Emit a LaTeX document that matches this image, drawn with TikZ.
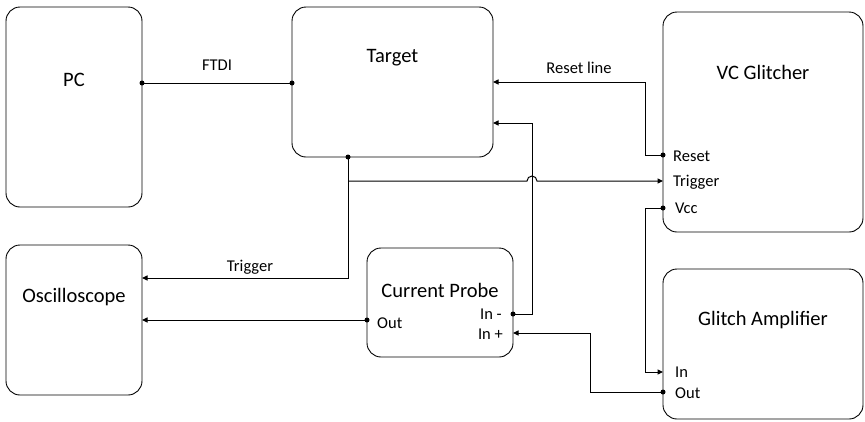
\documentclass[tikz,border=0pt]{standalone}
\usepackage{fontspec}
\setmainfont{Carlito}
\usetikzlibrary{arrows.meta}
\begin{document}
\begin{tikzpicture}[x=1pt,y=-1pt,
  box/.style={draw, line width=0.9pt, rounded corners=14pt, inner sep=0pt, outer sep=0pt},
  big/.style={font=\fontsize{20.5}{22}\selectfont, inner sep=0pt},
  small/.style={font=\fontsize{16.5}{18}\selectfont, inner sep=0pt},
  wire/.style={line width=1pt},
  arr/.style={wire, -{Triangle[length=5.5pt,width=5pt]}},
  dot/.style={circle, fill, inner sep=0pt, minimum size=5pt}]
\useasboundingbox (0,0) rectangle (865,421);
% boxes
\node[box, minimum width=136pt, minimum height=200pt] (pc) at (74,107) {};
\node[box, minimum width=201pt, minimum height=150pt] (tgt) at (392.5,82) {};
\node[box, minimum width=200pt, minimum height=220pt] (vc) at (763,122) {};
\node[box, minimum width=136pt, minimum height=150pt] (osc) at (74,320) {};
\node[box, minimum width=146pt, minimum height=109pt] (cp) at (440,302.5) {};
\node[box, minimum width=200pt, minimum height=150pt] (ga) at (763,344) {};
% labels
\node[big] (pcl) at (74,80) {PC};
\node[big] (tgtl) at (392.5,58) {Target};
\node[big] (vcl) at (763,72) {VC Glitcher};
\node[big] (oscl) at (74,297) {Oscilloscope};
\node[big] (cpl) at (440,290) {Current Probe};
\node[big] (gal) at (763,320) {Glitch Amplifier};
\node[small] (ftdi) at (217,65) {FTDI};
\node[small] (rstl) at (579,68) {Reset line};
\node[small] (trgl) at (250,267) {Trigger};
\node[small, anchor=west] (vcrst) at (673,156) {Reset};
\node[small, anchor=west] (vctrg) at (673,182) {Trigger};
\node[small, anchor=west] (vcvcc) at (675,208) {Vcc};
\node[small, anchor=west] (cpout) at (377,323) {Out};
\node[small, anchor=east] (cpinm) at (502,314) {In -};
\node[small, anchor=east] (cpinp) at (503,334) {In +};
\node[small, anchor=west] (gain) at (675,372) {In};
\node[small, anchor=west] (gaout) at (675,393) {Out};
% ports
\coordinate (pcR) at (pc.east |- 0,83);
\coordinate (tgtL) at (tgt.west |- 0,83);
\coordinate (tgtR1) at (tgt.east |- 0,82);
\coordinate (tgtR2) at (tgt.east |- 0,123);
\coordinate (tgtB) at (tgt.south -| 348,0);
\coordinate (vcRst) at (vc.west |- 0,155);
\coordinate (vcTrg) at (vc.west |- 0,181);
\coordinate (vcVcc) at (vc.west |- 0,208);
\coordinate (oscT) at (osc.east |- 0,278);
\coordinate (oscO) at (osc.east |- 0,320);
\coordinate (cpOut) at (cp.west |- 0,320);
\coordinate (cpInm) at (cp.east |- 0,314);
\coordinate (cpInp) at (cp.east |- 0,333);
\coordinate (gaIn) at (ga.west |- 0,372);
\coordinate (gaOut) at (ga.west |- 0,392);
% connectors
\draw[wire] (pcR) -- (tgtL);
\draw[arr] (vcRst) -- (645,155) -- (645,82) -- (tgtR1);
\draw[arr] (tgtB) -- (348,278) -- (oscT);
\draw[arr] (348,181) -- (527,181) arc (180:360:5) -- (vcTrg);
\draw[arr] (cpInm) -- (532,314) -- (532,123) -- (tgtR2);
\draw[arr] (cpOut) -- (oscO);
\draw[arr] (vcVcc) -- (645,208) -- (645,372) -- (gaIn);
\draw[arr] (gaOut) -- (590,392) -- (590,333) -- (cpInp);
% dots
\foreach \p in {pcR,tgtL,vcRst,tgtB,cpInm,cpOut,vcVcc,gaOut}
  \node[dot] at (\p) {};
\end{tikzpicture}
\end{document}
